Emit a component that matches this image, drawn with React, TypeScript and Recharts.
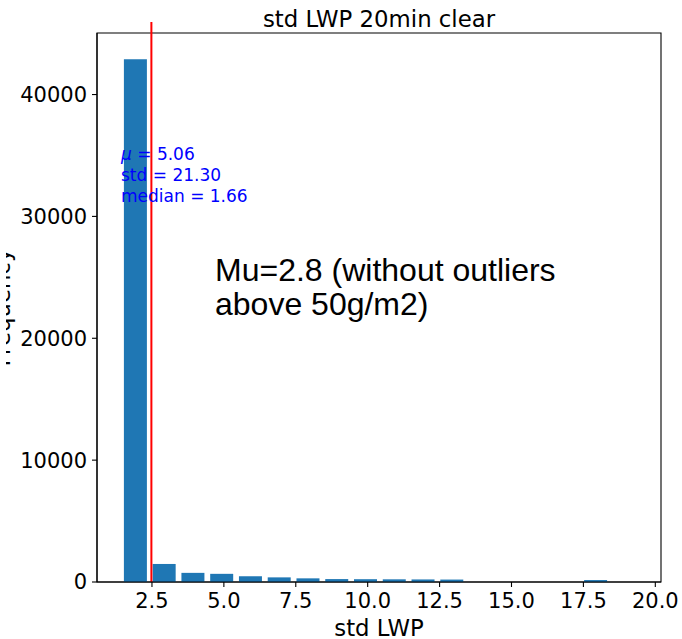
import React from 'react';
import { BarChart, Bar, XAxis, YAxis, ReferenceLine, ReferenceArea } from 'recharts';

const binCenters = [1.92, 2.92, 3.92, 4.92, 5.92, 6.92, 7.92, 8.92, 9.92, 10.92, 11.92, 12.92, 13.92, 14.92, 15.92, 16.92, 17.92, 18.92];
const counts = [42900, 1480, 750, 670, 480, 380, 300, 240, 230, 220, 210, 200, 0, 0, 0, 0, 160, 0];
const xTicks = [2.5, 5, 7.5, 10, 12.5, 15, 17.5, 20];
const yTicks = [0, 10000, 20000, 30000, 40000];
const xDomain: [number, number] = [0.589, 20.198];
const yDomain: [number, number] = [0, 45050];
const markerX = 2.48;
const markerTop = 45950;
const statsNames = ['μ', 'std', 'median'];
const statsValues = ['5.06', '21.30', '1.66'];
const noteLines = ['Mu=2.8 (without outliers', 'above 50g/m2)'];
const title = 'std LWP 20min clear';
const xLabel = 'std LWP';
const yLabel = 'Frequency';

const data = binCenters.map((x, i) => ({ x, count: counts[i] }));

const W = 682;
const H = 639;
const FONT = 'DejaVu Sans';

export default function App() {
  return (
    <div style={{ position: 'absolute', left: 0, top: 0, width: W, height: H, background: '#fff' }}>
      <BarChart
        width={W}
        height={H}
        data={data}
        margin={{ top: 33, right: 21, bottom: 0, left: 7 }}
        barCategoryGap={0}
      >
        <XAxis
          dataKey="x"
          type="number"
          domain={xDomain}
          allowDataOverflow
          ticks={xTicks}
          tickFormatter={(v: number) => v.toFixed(1)}
          interval={0}
          height={57}
          tickSize={5}
          tickMargin={6}
          axisLine={{ stroke: '#000', strokeWidth: 1.1 }}
          tickLine={{ stroke: '#000', strokeWidth: 1.1 }}
          tick={{ fill: '#000', fontSize: 21, fontFamily: FONT }}
        />
        <YAxis
          type="number"
          domain={yDomain}
          allowDataOverflow
          ticks={yTicks}
          interval={0}
          width={90}
          tickSize={5}
          tickMargin={5}
          axisLine={{ stroke: '#000', strokeWidth: 1.1 }}
          tickLine={{ stroke: '#000', strokeWidth: 1.1 }}
          tick={{ fill: '#000', fontSize: 21, fontFamily: FONT }}
        />
        <ReferenceArea
          x1={xDomain[0]}
          x2={xDomain[1]}
          y1={yDomain[0]}
          y2={yDomain[1]}
          fill="none"
          fillOpacity={0}
          stroke="#000"
          strokeWidth={1.1}
          ifOverflow="visible"
        />
        <Bar dataKey="count" fill="#1f77b4" barSize={23} isAnimationActive={false} />
        <ReferenceLine
          segment={[{ x: markerX, y: 0 }, { x: markerX, y: markerTop }]}
          stroke="#ff0000"
          strokeWidth={2}
          ifOverflow="visible"
        />
      </BarChart>
      <svg
        width={W}
        height={H}
        style={{ position: 'absolute', left: 0, top: 0, pointerEvents: 'none' }}
      >
        <defs>
          <clipPath id="ylabclip">
            <rect x={6} y={0} width={20} height={H} />
          </clipPath>
        </defs>
        <text x={379} y={26.5} textAnchor="middle" fontFamily={FONT} fontSize={22.8} fill="#000">
          {title}
        </text>
        <text x={379} y={635.5} textAnchor="middle" fontFamily={FONT} fontSize={22.8} fill="#000">
          {xLabel}
        </text>
        <g clipPath="url(#ylabclip)">
          <text
            x={9.5}
            y={307.5}
            transform="rotate(-90 9.5 307.5)"
            textAnchor="middle"
            fontFamily={FONT}
            fontSize={22.8}
            fill="#000"
          >
            {yLabel}
          </text>
        </g>
        {statsNames.map((n, i) => (
          <text key={n} x={121} y={159.5 + i * 21} fontFamily={FONT} fontSize={17} fill="#0000ff">
            <tspan fontStyle={i === 0 ? 'italic' : 'normal'}>{n}</tspan>
            <tspan> = </tspan>
            <tspan>{statsValues[i]}</tspan>
          </text>
        ))}
        {noteLines.map((t, i) => (
          <text key={t} x={215} y={281 + i * 34} fontFamily="Liberation Sans" fontSize={32} fill="#000">
            {t}
          </text>
        ))}
      </svg>
    </div>
  );
}
